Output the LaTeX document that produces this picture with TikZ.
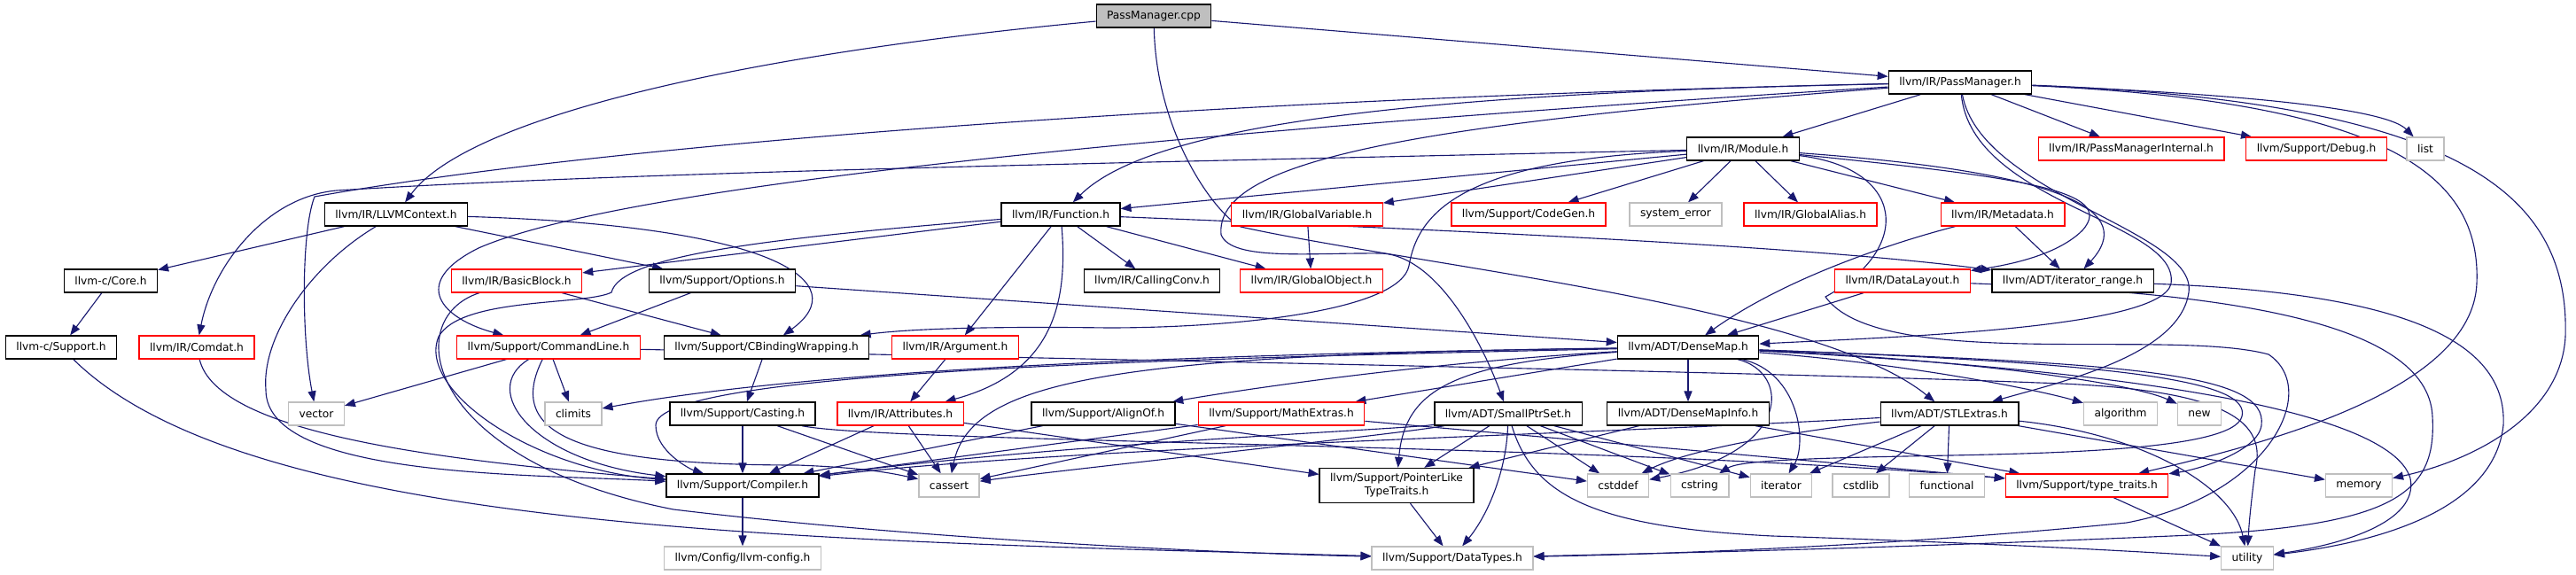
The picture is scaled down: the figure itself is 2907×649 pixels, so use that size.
\documentclass[tikz,border=0pt]{standalone}
\usepackage{fontspec}
\setmainfont{DejaVu Sans}
\usetikzlibrary{arrows.meta,backgrounds}
\definecolor{edgeblue}{HTML}{191970}
\definecolor{sysgray}{HTML}{BFBFBF}
\begin{document}
\begin{tikzpicture}[x=0.025cm,y=-0.025cm,>={Triangle[length=8.5pt,width=6.5pt]},
  hdr/.style={draw=black,fill=white,line width=0.9pt,minimum height=18.5pt,inner xsep=8.5pt,inner ysep=0pt,font=\fontsize{8.7pt}{10.7pt}\selectfont},
  trunc/.style={hdr,draw=red},
  sys/.style={hdr,draw=sysgray},
  dep/.style={->,draw=edgeblue,line width=0.8pt}]
\useasboundingbox (0,0) rectangle (2907,649);

\node[hdr,fill=sysgray] (cpp) at (1302,18) {PassManager.cpp};
\node[hdr] (pmh) at (2212,93) {llvm/IR/PassManager.h};
\node[hdr] (module) at (1967,168) {llvm/IR/Module.h};
\node[trunc] (pmint) at (2405,168) {llvm/IR/PassManagerInternal.h};
\node[trunc] (debug) at (2614,168) {llvm/Support/Debug.h};
\node[sys] (list) at (2737,168) {list};
\node[hdr] (llvmctx) at (447,242) {llvm/IR/LLVMContext.h};
\node[hdr] (function) at (1197,242) {llvm/IR/Function.h};
\node[trunc] (globalvar) at (1475,242) {llvm/IR/GlobalVariable.h};
\node[trunc] (codegen) at (1725,242) {llvm/Support/CodeGen.h};
\node[sys] (syserr) at (1891,242) {system\_error};
\node[trunc] (galias) at (2043,242) {llvm/IR/GlobalAlias.h};
\node[trunc] (metadata) at (2260,242) {llvm/IR/Metadata.h};
\node[hdr] (core) at (125,317) {llvm-c/Core.h};
\node[trunc] (basicblock) at (583,317) {llvm/IR/BasicBlock.h};
\node[hdr] (options) at (815,317) {llvm/Support/Options.h};
\node[hdr] (callconv) at (1300,317) {llvm/IR/CallingConv.h};
\node[trunc] (globalobj) at (1480,317) {llvm/IR/GlobalObject.h};
\node[trunc] (datalayout) at (2147,317) {llvm/IR/DataLayout.h};
\node[hdr] (iterrange) at (2339,317) {llvm/ADT/iterator\_range.h};
\node[hdr] (csupport) at (69,392) {llvm-c/Support.h};
\node[trunc] (comdat) at (222,392) {llvm/IR/Comdat.h};
\node[trunc] (cmdline) at (619,392) {llvm/Support/CommandLine.h};
\node[hdr] (cbinding) at (865,392) {llvm/Support/CBindingWrapping.h};
\node[trunc] (argument) at (1078,392) {llvm/IR/Argument.h};
\node[hdr] (densemap) at (1905,392) {llvm/ADT/DenseMap.h};
\node[sys] (vector) at (357,467) {vector};
\node[sys] (climits) at (647,467) {climits};
\node[hdr] (casting) at (838,467) {llvm/Support/Casting.h};
\node[trunc] (attributes) at (1016,467) {llvm/IR/Attributes.h};
\node[hdr] (alignof) at (1245,467) {llvm/Support/AlignOf.h};
\node[trunc] (mathextras) at (1446,467) {llvm/Support/MathExtras.h};
\node[hdr] (smallptrset) at (1702,467) {llvm/ADT/SmallPtrSet.h};
\node[hdr] (densemapinfo) at (1905,467) {llvm/ADT/DenseMapInfo.h};
\node[hdr] (stlextras) at (2200,467) {llvm/ADT/STLExtras.h};
\node[sys] (algorithm) at (2393,467) {algorithm};
\node[sys] (new) at (2482,467) {new};
\node[hdr] (compiler) at (838,548) {llvm/Support/Compiler.h};
\node[sys] (cassert) at (1071,548) {cassert};
\node[hdr,align=center,minimum height=27.7pt] (pointerlike) at (1576,548) {llvm/Support/PointerLike\\TypeTraits.h};
\node[sys] (cstddef) at (1826,548) {cstddef};
\node[sys] (cstring) at (1918,548) {cstring};
\node[sys] (iterator) at (2010,548) {iterator};
\node[sys] (cstdlib) at (2100,548) {cstdlib};
\node[sys] (functional) at (2197,548) {functional};
\node[trunc] (typetraits) at (2355,548) {llvm/Support/type\_traits.h};
\node[sys] (memory) at (2662,548) {memory};
\node[sys] (llvmconfig) at (838,630) {llvm/Config/llvm-config.h};
\node[sys] (datatypes) at (1639,630) {llvm/Support/DataTypes.h};
\node[sys] (utility) at (2536,630) {utility};

\begin{scope}[on background layer]
\draw[dep] (cpp) -- (pmh);
\draw[dep] (cpp) .. controls (850,60) and (530,130) .. (llvmctx);
\draw[dep] (cpp) .. controls (1305,150) and (1370,240) .. (1400,256) .. controls (1600,300) and (2050,345) .. (stlextras);

\draw[dep] (pmh) -- (module);
\draw[dep] (pmh) -- (pmint);
\draw[dep] (pmh) -- (debug);
\draw[dep] (pmh) .. controls (2500,105) and (2690,120) .. (list);
\draw[dep] (pmh) .. controls (2780,115) and (2900,220) .. (2895,380) .. controls (2890,470) and (2790,520) .. (memory);
\draw[dep] (pmh) .. controls (2700,115) and (2800,200) .. (2795,320) .. controls (2790,440) and (2560,500) .. (typetraits);
\draw[dep] (pmh) .. controls (2225,230) and (2460,250) .. (2450,320) .. controls (2440,370) and (2150,380) .. (densemap);
\draw[dep] (pmh) .. controls (2235,220) and (2480,260) .. (2470,330) .. controls (2460,400) and (2330,430) .. (stlextras);
\draw[dep] (pmh) .. controls (1600,140) and (1370,180) .. (1378,265) .. controls (1390,295) and (1480,285) .. (1560,286) .. controls (1620,290) and (1670,380) .. (smallptrset);
\draw[dep] (pmh) .. controls (1600,105) and (1300,140) .. (function);
\draw[dep] (pmh) .. controls (1300,150) and (700,210) .. (540,280) .. controls (460,320) and (500,360) .. (cmdline);
\draw[dep] (pmh) .. controls (1400,110) and (700,160) .. (355,222) .. controls (340,260) and (340,380) .. (vector);

\draw[dep] (module) -- (function);
\draw[dep] (module) -- (globalvar);
\draw[dep] (module) -- (codegen);
\draw[dep] (module) -- (syserr);
\draw[dep] (module) -- (galias);
\draw[dep] (module) -- (metadata);
\draw[dep] (module) .. controls (2280,200) and (2390,215) .. (2350,260) .. controls (2320,290) and (2260,300) .. (datalayout);
\draw[dep] (module) .. controls (2340,195) and (2410,240) .. (iterrange);
\draw[dep] (module) .. controls (1650,180) and (1600,240) .. (1590,300) .. controls (1580,350) and (1400,370) .. (1250,370) .. controls (1100,368) and (1020,372) .. (cbinding);
\draw[dep] (module) .. controls (1200,185) and (700,195) .. (380,215) .. controls (300,222) and (240,300) .. (comdat);
\draw[dep] (module) .. controls (2150,190) and (2160,280) .. (2060,335) .. controls (2120,420) and (2450,370) .. (2560,400) .. controls (2620,440) and (2560,560) .. (2400,590) .. controls (2150,615) and (1900,625) .. (datatypes);

\draw[dep] (function) .. controls (1700,262) and (2060,280) .. (iterrange);
\draw[dep] (function) -- (argument);
\draw[dep] (function) .. controls (1205,340) and (1190,420) .. (attributes);
\draw[dep] (function) -- (basicblock);
\draw[dep] (function) -- (callconv);
\draw[dep] (function) -- (globalobj);
\draw[dep] (function) .. controls (850,270) and (700,290) .. (690,330) .. controls (660,345) and (520,335) .. (495,380) .. controls (470,440) and (600,530) .. (compiler);

\draw[dep] (llvmctx) -- (core);
\draw[dep] (llvmctx) -- (options);
\draw[dep] (llvmctx) .. controls (880,255) and (965,320) .. (cbinding);
\draw[dep] (llvmctx) .. controls (350,300) and (295,380) .. (300,440) .. controls (300,540) and (600,535) .. (compiler);

\draw[dep] (core) -- (csupport);
\draw[dep] (csupport) .. controls (280,600) and (900,610) .. (datatypes);
\draw[dep] (comdat) .. controls (245,490) and (500,520) .. (compiler);
\draw[dep] (basicblock) -- (cbinding);
\draw[dep] (basicblock) .. controls (450,360) and (480,520) .. (760,575) .. controls (1050,610) and (1400,625) .. (datatypes);
\draw[dep] (options) -- (cmdline);
\draw[dep] (options) -- (densemap);
\draw[dep] (globalvar) -- (globalobj);
\draw[dep] (metadata) .. controls (2150,270) and (2020,310) .. (densemap);
\draw[dep] (metadata) -- (iterrange);
\draw[dep] (datalayout) -- (densemap);
\draw[dep] (datalayout) .. controls (2500,330) and (2740,360) .. (2745,470) .. controls (2750,560) and (2700,595) .. (2450,605) .. controls (2100,620) and (1850,625) .. (datatypes);
\draw[dep] (iterrange) .. controls (2700,330) and (2830,380) .. (2825,480) .. controls (2815,570) and (2700,610) .. (utility);

\draw[dep] (densemap) -- (densemapinfo);
\draw[dep] (densemap) .. controls (1600,410) and (1400,440) .. (alignof);
\draw[dep] (densemap) -- (mathextras);
\draw[dep] (densemap) .. controls (1300,405) and (740,420) .. (740,480) .. controls (740,510) and (780,530) .. (compiler);
\draw[dep] (densemap) .. controls (1250,400) and (1095,430) .. (cassert);
\draw[dep] (densemap) .. controls (1640,410) and (1585,440) .. (pointerlike);
\draw[dep] (densemap) .. controls (1300,400) and (900,420) .. (climits);
\draw[dep] (densemap) .. controls (2020,420) and (2025,510) .. (cstddef);
\draw[dep] (densemap) .. controls (2030,420) and (2040,500) .. (iterator);
\draw[dep] (densemap) .. controls (2400,410) and (2540,430) .. (2530,470) .. controls (2520,510) and (2300,512) .. (2150,515) .. controls (2000,518) and (1960,522) .. (cstring);
\draw[dep] (densemap) .. controls (2150,410) and (2300,440) .. (algorithm);
\draw[dep] (densemap) .. controls (2200,405) and (2400,430) .. (new);
\draw[dep] (densemap) .. controls (2400,410) and (2560,420) .. (2552,480) .. controls (2548,510) and (2480,530) .. (typetraits);
\draw[dep] (densemap) .. controls (2450,420) and (2700,470) .. (2720,540) .. controls (2730,590) and (2640,615) .. (utility);

\draw[dep] (densemapinfo) -- (pointerlike);
\draw[dep] (densemapinfo) -- (typetraits);
\draw[dep] (alignof) -- (compiler);
\draw[dep] (alignof) -- (cstddef);
\draw[dep] (mathextras) -- (cassert);
\draw[dep] (mathextras) -- (compiler);
\draw[dep] (mathextras) -- (typetraits);

\draw[dep] (smallptrset) -- (pointerlike);
\draw[dep] (smallptrset) -- (cstddef);
\draw[dep] (smallptrset) -- (cstring);
\draw[dep] (smallptrset) -- (iterator);
\draw[dep] (smallptrset) .. controls (1700,530) and (1680,580) .. (datatypes);
\draw[dep] (smallptrset) .. controls (1730,560) and (1800,595) .. (2000,605) .. controls (2300,615) and (2450,625) .. (utility);
\draw[dep] (smallptrset) .. controls (1580,485) and (1200,500) .. (compiler);
\draw[dep] (smallptrset) .. controls (1580,490) and (1200,530) .. (cassert);

\draw[dep] (stlextras) -- (iterator);
\draw[dep] (stlextras) -- (cstdlib);
\draw[dep] (stlextras) -- (functional);
\draw[dep] (stlextras) -- (memory);
\draw[dep] (stlextras) .. controls (2420,490) and (2520,550) .. (utility);
\draw[dep] (stlextras) .. controls (2000,490) and (1900,510) .. (cstddef);
\draw[dep] (stlextras) .. controls (1800,490) and (1200,505) .. (compiler);

\draw[dep] (casting) -- (compiler);
\draw[dep] (casting) -- (cassert);
\draw[dep] (casting) .. controls (1000,500) and (1800,500) .. (typetraits);
\draw[dep] (cmdline) -- (vector);
\draw[dep] (cmdline) -- (climits);
\draw[dep] (cmdline) .. controls (540,440) and (600,520) .. (compiler);
\draw[dep] (cmdline) .. controls (570,490) and (650,525) .. (900,525) .. controls (980,528) and (1010,535) .. (cassert);
\draw[dep] (cmdline) .. controls (1200,405) and (2000,420) .. (2300,432) .. controls (2500,438) and (2560,470) .. (2545,530) .. controls (2540,570) and (2538,590) .. (utility);
\draw[dep] (attributes) -- (cassert);
\draw[dep] (attributes) -- (compiler);
\draw[dep] (attributes) -- (pointerlike);
\draw[dep] (argument) -- (attributes);
\draw[dep] (cbinding) -- (casting);
\draw[dep] (pointerlike) -- (datatypes);
\draw[dep] (typetraits) -- (utility);
\draw[dep] (compiler) -- (llvmconfig);
\end{scope}
\end{tikzpicture}
\end{document}
